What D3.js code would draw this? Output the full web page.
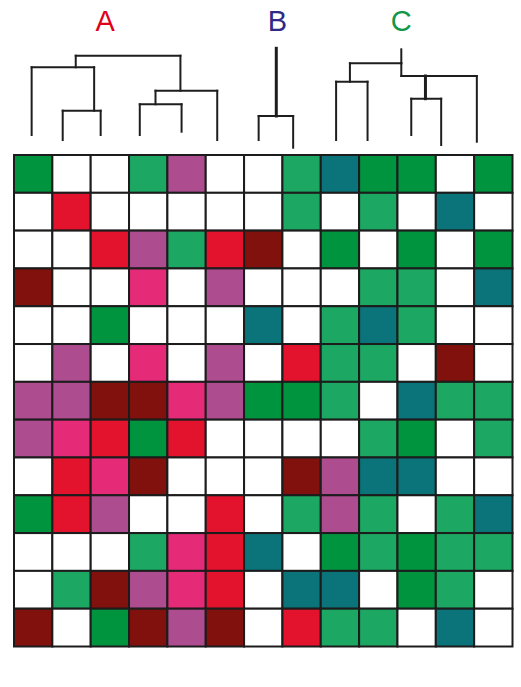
<!DOCTYPE html>
<html>
<head>
<meta charset="utf-8">
<script src="https://cdn.jsdelivr.net/npm/d3@7"></script>
<style>
  html, body { margin: 0; padding: 0; background: #fff; }
  svg { display: block; }
</style>
</head>
<body>
<svg id="chart" width="521" height="687"></svg>
<script>
// ---- Data ----
const colorCodes = {
  W: "#ffffff", // white
  G: "#00943f", // dark green
  M: "#1ca862", // medium green
  T: "#0b737a", // teal
  P: "#ad4d90", // purple
  R: "#e3122d", // red
  D: "#80110c", // dark red
  K: "#e52a78"  // pink
};

const rows = [
  "GWWMPWWMTGGWG",
  "WRWWWWWMWMWTW",
  "WWRPMRDWGWGWG",
  "DWWKWPWWWMMWT",
  "WWGWWWTWMTMWW",
  "WPWKWPWRMMWDW",
  "PPDDKPGGMWTMM",
  "PKRGRWWWWMGWM",
  "WRKDWWWDPTTWW",
  "GRPWWRWMPMWMT",
  "WWWMKRTWGMGMM",
  "WMDPKRWTTWGMW",
  "DWGDPDWRMMWTW"
];

const groupLabels = ["A", "B", "C"];
const groupLabelColors = ["#e1001c", "#2e2a86", "#10994a"];
const groupLabelPos = [2.38, 6.87, 10.1]; // in column units

// Dendrograms: x in column units, h = merge height
const dendroA = { h: 94.3, children: [
  { x: 1.61, h: 82.7, children: [
    { x: 0.46, h: 15 },
    { x: 2.09, h: 39.3, children: [ { x: 1.27, h: 10 }, { x: 2.26, h: 15 } ] }
  ]},
  { x: 4.34, h: 59.3, children: [
    { x: 3.69, h: 45.7, children: [ { x: 3.28, h: 15 }, { x: 4.37, h: 18.3 } ] },
    { x: 5.30, h: 10 }
  ]}
]};
const dendroB = { x: 6.84, top: 101.7, h: 34, thick: true, children: [
  { x: 6.38, h: 10 }, { x: 7.28, h: 2.3 }
]};
const dendroC = { x: 10.10, top: 100.7, h: 86.7, children: [
  { x: 8.76, h: 68.3, children: [ { x: 8.40, h: 10 }, { x: 9.22, h: 10 } ] },
  { x: 10.10, h: 74, children: [
    { x: 10.73, h: 51.3, thick: true, children: [ { x: 10.36, h: 15 }, { x: 11.14, h: 5 } ] },
    { x: 12.07, h: 8.3 }
  ]}
]};
const dendros = [dendroA, dendroB, dendroC];

// ---- Drawing ----
const svg = d3.select("#chart");
const n = rows[0].length;
const gridLeft = 14, gridRight = 512.5, gridTop = 155, gridBottom = 646.5;

const xBand = d3.scaleBand().domain(d3.range(n)).range([gridLeft, gridRight]);
const yBand = d3.scaleBand().domain(d3.range(rows.length)).range([gridTop, gridBottom]);
const xUnit = d3.scaleLinear().domain([0, n]).range([gridLeft, gridRight]);
const yH = d3.scaleLinear().domain([0, 100]).range([150, 50]);

// Grid cells
const cells = [];
rows.forEach((r, i) => r.split("").forEach((c, j) => cells.push({ i, j, c })));
svg.append("g").selectAll("rect").data(cells).join("rect")
  .attr("x", d => xBand(d.j))
  .attr("y", d => yBand(d.i))
  .attr("width", xBand.bandwidth())
  .attr("height", yBand.bandwidth())
  .attr("fill", d => colorCodes[d.c])
  .attr("stroke", "#1c1c1c")
  .attr("stroke-width", 2);

// Dendrogram segments
const segs = [];
dendros.forEach(tree => {
  const root = d3.hierarchy(tree);
  root.each(node => {
    const d = node.data;
    const parentH = node.parent ? node.parent.data.h : d.top;
    if (d.x !== undefined && parentH !== undefined) {
      segs.push({ x1: d.x, y1: parentH, x2: d.x, y2: d.h, thick: d.thick });
    }
    if (d.children) {
      const xs = d.children.map(c => c.x);
      if (d.x !== undefined) xs.push(d.x);
      segs.push({ x1: d3.min(xs), y1: d.h, x2: d3.max(xs), y2: d.h });
    }
  });
});
svg.append("g").selectAll("line").data(segs).join("line")
  .attr("x1", d => xUnit(d.x1))
  .attr("x2", d => xUnit(d.x2))
  .attr("y1", d => yH(d.y1))
  .attr("y2", d => yH(d.y2))
  .attr("stroke", "#1e1e1e")
  .attr("stroke-width", d => d.thick ? 3 : 2)
  .attr("stroke-linecap", "square");

// Group labels
svg.append("g").selectAll("text").data(groupLabels).join("text")
  .attr("x", (d, i) => xUnit(groupLabelPos[i]))
  .attr("y", 30.5)
  .attr("text-anchor", "middle")
  .attr("font-family", "Liberation Sans, Arial, sans-serif")
  .attr("font-size", 29)
  .attr("fill", (d, i) => groupLabelColors[i])
  .text(d => d);
</script>
</body>
</html>
